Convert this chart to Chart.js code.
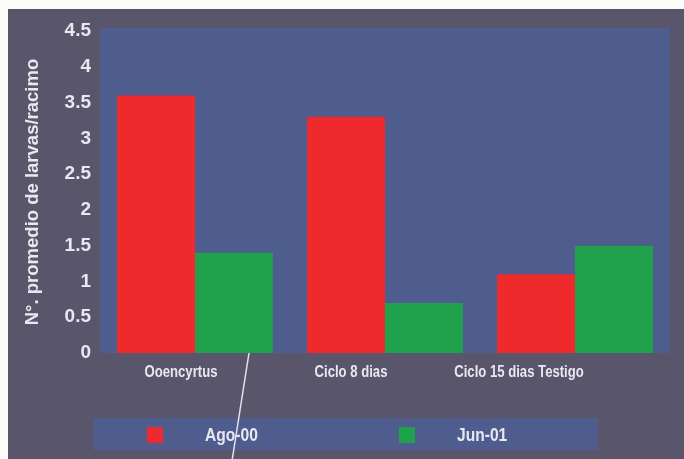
<!DOCTYPE html>
<html>
<head>
<meta charset="utf-8">
<script src="https://cdn.jsdelivr.net/npm/chart.js@4"></script>
<style>
  html, body { margin: 0; padding: 0; background: #fbfbf8; }
  #frame { position: absolute; left: 8px; top: 9px; width: 676px; height: 450px; background: #59556b; }
  #c { display: block; }
</style>
</head>
<body>
<div id="frame"><canvas id="c" width="676" height="450"></canvas></div>
<script>
// Larvae per cluster, by treatment and sampling date
const categories = ['Ooencyrtus', 'Ciclo 8 dias', 'Ciclo 15 dias Testigo'];
const seriesNames = ['Ago-00', 'Jun-01'];
const ago00 = [3.6, 3.3, 1.1];
const jun01 = [1.4, 0.7, 1.5];
const yTicks = [0, 0.5, 1, 1.5, 2, 2.5, 3, 3.5, 4, 4.5];
const yTickLabels = ['0', '0.5', '1', '1.5', '2', '2.5', '3', '3.5', '4', '4.5'];

const TEXT = '#e9e7f0';
const PLOT_BG = '#4f5d8e';
const RED = '#ef2a2c';
const GREEN = '#20a14b';
const FONT = '"Liberation Sans", Arial, sans-serif';

// condensed bold text: draw normally, squeezed horizontally
function narrowText(ctx, text, x, y, size, align) {
  const squeeze = 0.82;
  ctx.save();
  ctx.font = 'bold ' + size + 'px ' + FONT;
  ctx.textAlign = align;
  ctx.textBaseline = 'middle';
  ctx.translate(x, y);
  ctx.scale(squeeze, 1);
  ctx.fillText(text, 0, 0);
  ctx.restore();
}

// blue panel behind the bars
const plotBackground = {
  id: 'plotBackground',
  beforeDraw(chart) {
    const { ctx, chartArea: a } = chart;
    ctx.save();
    ctx.fillStyle = PLOT_BG;
    ctx.fillRect(a.left, a.top - 3, a.right - a.left, a.bottom - a.top + 3);
    ctx.restore();
  }
};

// category names under each group, nudged left as printed
const labelNudge = [-14, -34, -56];
const categoryLabels = {
  id: 'categoryLabels',
  afterDraw(chart) {
    const { ctx, chartArea: a } = chart;
    const x = chart.scales.x;
    ctx.fillStyle = TEXT;
    categories.forEach((c, i) => {
      narrowText(ctx, c, x.getPixelForValue(i) + labelNudge[i], a.bottom + 20, 16, 'center');
    });
  }
};

// legend strip with its own blue band
const legendBand = {
  id: 'legendBand',
  afterDraw(chart) {
    const { ctx } = chart;
    ctx.save();
    ctx.fillStyle = PLOT_BG;
    ctx.fillRect(85, 409, 505, 32);
    const itemX = [139, 391];
    chart.data.datasets.forEach((ds, i) => {
      ctx.fillStyle = ds.backgroundColor;
      ctx.fillRect(itemX[i], 418, 16, 16);
      ctx.fillStyle = TEXT;
      narrowText(ctx, ds.label, itemX[i] + 58, 427, 19, 'left');
    });
    ctx.restore();
  }
};

// thin leader line crossing the lower margin
const leaderLine = {
  id: 'leaderLine',
  afterDraw(chart) {
    const { ctx } = chart;
    ctx.save();
    ctx.strokeStyle = '#e2e2e8';
    ctx.lineWidth = 1.5;
    ctx.beginPath();
    ctx.moveTo(241, 344);
    ctx.lineTo(224, 452);
    ctx.stroke();
    ctx.restore();
  }
};

new Chart(document.getElementById('c'), {
  type: 'bar',
  data: {
    labels: categories,
    datasets: [
      { label: seriesNames[0], data: ago00, backgroundColor: RED },
      { label: seriesNames[1], data: jun01, backgroundColor: GREEN }
    ]
  },
  options: {
    responsive: false,
    animation: false,
    devicePixelRatio: 1,
    layout: { padding: { top: 22, right: 14, bottom: 0, left: 0 } },
    datasets: { bar: { categoryPercentage: 0.82, barPercentage: 1.0 } },
    plugins: { legend: { display: false }, tooltip: { enabled: false } },
    scales: {
      x: {
        grid: { display: false, drawTicks: false },
        border: { display: false },
        ticks: { display: false },
        afterFit(s) { s.height = 106; }
      },
      y: {
        min: 0,
        max: 4.5,
        afterBuildTicks(s) { s.ticks = yTicks.map(v => ({ value: v })); },
        grid: { display: false, drawTicks: false },
        border: { display: false },
        ticks: {
          color: TEXT,
          padding: 9,
          font: { family: FONT, size: 19, weight: 'bold' },
          callback: (v, i) => yTickLabels[i]
        },
        title: {
          display: true,
          text: 'N°. promedio de larvas/racimo',
          color: TEXT,
          font: { family: FONT, size: 18.5, weight: 'bold' },
          padding: { top: 14, bottom: 0 }
        },
        afterFit(s) { s.width = 92; }
      }
    }
  },
  plugins: [plotBackground, categoryLabels, legendBand, leaderLine]
});
</script>
</body>
</html>
